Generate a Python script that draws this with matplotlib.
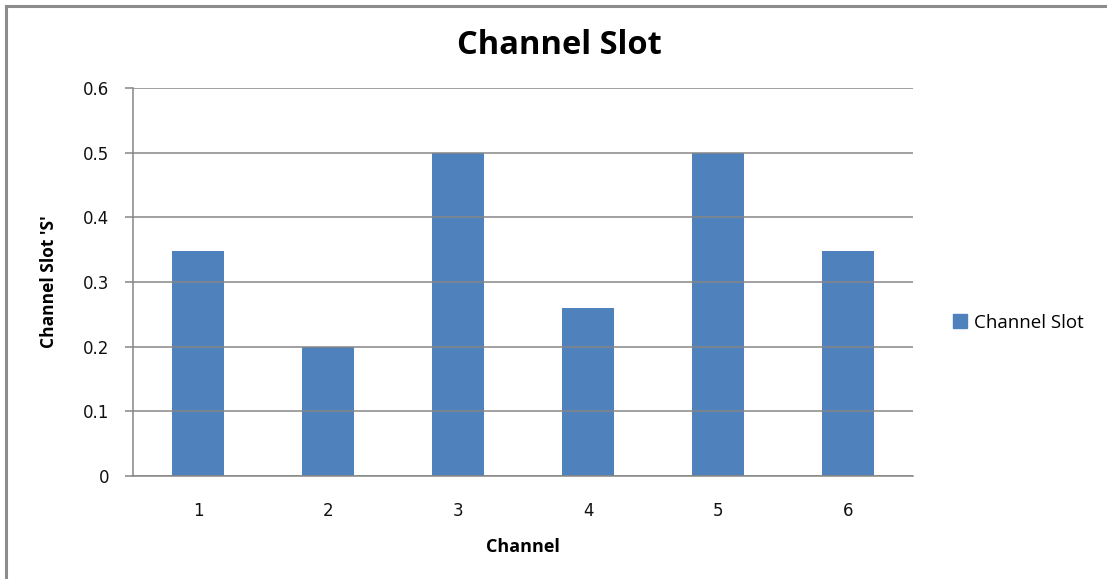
import matplotlib.pyplot as plt
from matplotlib.lines import Line2D
from matplotlib.patches import Patch

# Values
channels = ["1", "2", "3", "4", "5", "6"]
slot_values = [0.348, 0.2, 0.5, 0.26, 0.5, 0.348]
y_ticks = [0, 0.1, 0.2, 0.3, 0.4, 0.5, 0.6]
y_tick_labels = ["0", "0.1", "0.2", "0.3", "0.4", "0.5", "0.6"]

BAR_COLOR = "#4F81BD"
GRID_COLOR = "#868686"

plt.rcParams["font.family"] = ["Open Sans", "DejaVu Sans"]

fig = plt.figure(figsize=(11.07, 5.79), dpi=100)

# Outer chart border (top and left edges show in the picture)
fig.add_artist(Line2D([0.0054, 1.0], [0.9905, 0.9905], transform=fig.transFigure,
                      color="#8C8C8C", linewidth=2.2))
fig.add_artist(Line2D([0.0054, 0.0054], [0.0, 0.9905], transform=fig.transFigure,
                      color="#8C8C8C", linewidth=2.2))

ax = fig.add_axes([133 / 1107, 1 - 476 / 579, 780 / 1107, 388 / 579])

x = range(len(channels))
ax.bar(x, slot_values, width=0.4, color=BAR_COLOR, zorder=1)

ax.set_xlim(-0.5, len(channels) - 0.5)
ax.set_ylim(0, 0.6)
ax.set_yticks(y_ticks)
ax.set_yticklabels(y_tick_labels, family="DejaVu Sans")
ax.set_xticks(list(x))
ax.set_xticklabels(channels, family="DejaVu Sans")

ax.yaxis.grid(True, color=GRID_COLOR, linewidth=1.1)
for gl in ax.get_ygridlines():
    gl.set_zorder(0.5)

for side in ["top", "right"]:
    ax.spines[side].set_visible(False)
ax.spines["left"].set_color(GRID_COLOR)
ax.spines["bottom"].set_color(GRID_COLOR)
ax.spines["left"].set_linewidth(1.1)
ax.spines["bottom"].set_linewidth(1.1)

ax.tick_params(axis="y", length=6, width=1.1, color=GRID_COLOR, pad=11,
               labelsize=12, labelcolor="#111111")
ax.tick_params(axis="x", length=0, pad=19, labelsize=12, labelcolor="#111111")

ax.set_xlabel("Channel", fontsize=13, fontweight="bold", labelpad=13)
ax.set_ylabel("Channel Slot 'S'", fontsize=12.5, fontweight="bold", labelpad=18)
fig.text(559 / 1107, 1 - 45 / 579, "Channel Slot", ha="center", va="center",
         fontsize=23.5, fontweight="bold")

ax.legend(handles=[Patch(color=BAR_COLOR, label="Channel Slot")],
          loc="center left", bbox_to_anchor=(1.03, 0.395), frameon=False,
          fontsize=13.5, handlelength=0.75, handleheight=0.75, handletextpad=0.35)

fig.savefig("out.png", dpi=100)
